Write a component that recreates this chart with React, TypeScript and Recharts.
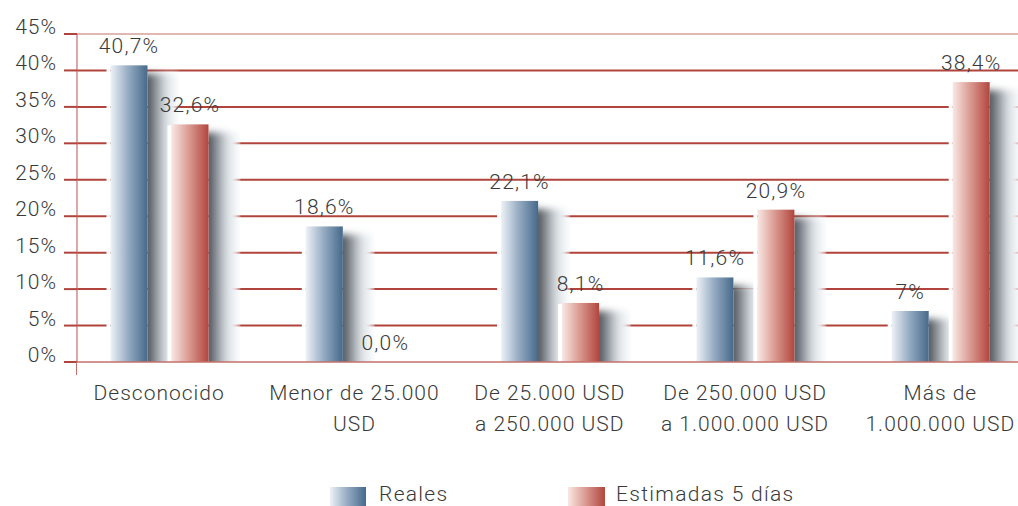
import { BarChart, Bar, XAxis, YAxis, CartesianGrid, LabelList, ReferenceLine } from 'recharts';

const categories = [
  'Desconocido',
  'Menor de 25.000\nUSD',
  'De 25.000 USD\na 250.000 USD',
  'De 250.000 USD\na 1.000.000 USD',
  'Más de\n1.000.000 USD',
];
const reales = [40.7, 18.6, 22.1, 11.6, 7];
const estimadas = [32.6, 0.0, 8.1, 20.9, 38.4];
const seriesNames = ['Reales', 'Estimadas 5 días'];
const yTicks = [0, 5, 10, 15, 20, 25, 30, 35, 40, 45];
const gridValues = [5, 10, 15, 20, 25, 30, 35, 40];

const data = categories.map((name, i) => ({ name, reales: reales[i], estimadas: estimadas[i] }));

const FONT = 'Roboto, sans-serif';
const WEIGHT = 300;
const TEXT = '#3a3a3a';
const GRID = '#b0443d';
const AXIS = '#c4706a';

const fmt = (v: number) =>
  (Number.isInteger(v) && v !== 0 ? String(v) : v.toFixed(1)).replace('.', ',') + '%';

const makeBar = (grad: string) => (props: any) => {
  const { x, y, width, height, index } = props;
  if (!height || height <= 0) return null;
  const clipId = `clip-${grad}-${index}`;
  return (
    <g>
      <clipPath id={clipId}>
        <rect x={x + width} y={y - 10} width={32} height={height + 10} />
      </clipPath>
      <rect x={x - 4} y={y + 1} width={4} height={height - 1} fill="#fff" />
      <g clipPath={`url(#${clipId})`}>
        <rect x={x + width} y={y + 12} width={22} height={height - 12} fill="#fff" />
        <rect
          x={x + width - 6}
          y={y + 8}
          width={36}
          height={height + 10}
          fill="url(#shadowGrad)"
          filter="url(#blur)"
        />
      </g>
      <rect x={x} y={y} width={width} height={height} fill={`url(#${grad})`} />
    </g>
  );
};

const ValueLabel = (props: any) => {
  const { x, y, width, value } = props;
  return (
    <text
      x={x + width / 2}
      y={y - 12}
      textAnchor="middle"
      fill={TEXT}
      fontSize={21}
      fontWeight={WEIGHT}
      fontFamily={FONT}
      style={{ letterSpacing: 1.2 }}
    >
      {fmt(value)}
    </text>
  );
};

const XTick = (props: any) => {
  const { x, y, payload } = props;
  const lines = String(payload.value).split('\n');
  return (
    <text
      x={x}
      y={y + 30}
      textAnchor="middle"
      fill={TEXT}
      fontSize={21}
      fontWeight={WEIGHT}
      fontFamily={FONT}
      style={{ letterSpacing: 1 }}
    >
      {lines.map((l, i) => (
        <tspan key={i} x={x} dy={i === 0 ? 0 : 31}>
          {l}
        </tspan>
      ))}
    </text>
  );
};

const YTick = (props: any) => {
  const { x, y, payload } = props;
  return (
    <text
      x={x}
      y={y}
      textAnchor="end"
      fill={TEXT}
      fontSize={21}
      fontWeight={WEIGHT}
      fontFamily={FONT}
      style={{ letterSpacing: 1 }}
    >
      {payload.value}%
    </text>
  );
};

export default function App() {
  return (
    <div
      style={{
        position: 'absolute',
        top: 0,
        left: 0,
        width: 1018,
        height: 506,
        overflow: 'hidden',
        background: '#fff',
      }}
    >
      <BarChart
        width={1040}
        height={506}
        data={data}
        margin={{ top: 34, right: 2, left: 0, bottom: 84 }}
        barSize={37}
        barGap={24}
      >
        <defs>
          <linearGradient id="gBlue" x1="0" y1="0" x2="1" y2="0">
            <stop offset="0%" stopColor="#eef2f7" />
            <stop offset="45%" stopColor="#9aafc5" />
            <stop offset="100%" stopColor="#46698b" />
          </linearGradient>
          <linearGradient id="gRed" x1="0" y1="0" x2="1" y2="0">
            <stop offset="0%" stopColor="#f9e8e4" />
            <stop offset="50%" stopColor="#d8958c" />
            <stop offset="100%" stopColor="#b1463e" />
          </linearGradient>
          <linearGradient id="shadowGrad" x1="0" y1="0" x2="1" y2="0">
            <stop offset="0%" stopColor="#3c4147" />
            <stop offset="20%" stopColor="#555b61" />
            <stop offset="45%" stopColor="#9ba1a7" />
            <stop offset="70%" stopColor="#dfe4e8" />
            <stop offset="100%" stopColor="#f8fafc" />
          </linearGradient>
          <filter id="blur" x="-50%" y="-20%" width="200%" height="140%">
            <feGaussianBlur stdDeviation="3.5" />
          </filter>
        </defs>
        <CartesianGrid vertical={false} horizontalValues={gridValues} stroke={GRID} strokeWidth={2} />
        <ReferenceLine y={45} stroke={AXIS} strokeWidth={1.2} />
        <XAxis
          dataKey="name"
          interval={0}
          tickLine={false}
          axisLine={{ stroke: AXIS, strokeWidth: 1.5 }}
          tick={<XTick />}
          height={60}
          padding={{ left: -15.5, right: 0 }}
        />
        <YAxis
          domain={[0, 45]}
          ticks={yTicks}
          width={77}
          axisLine={{ stroke: AXIS, strokeWidth: 1.2 }}
          tickLine={{ stroke: GRID, strokeWidth: 2 }}
          tickSize={13}
          tickMargin={7}
          tick={<YTick />}
          interval={0}
        />
        <Bar dataKey="reales" name={seriesNames[0]} shape={makeBar('gBlue')} isAnimationActive={false}>
          <LabelList dataKey="reales" content={<ValueLabel />} />
        </Bar>
        <Bar dataKey="estimadas" name={seriesNames[1]} shape={makeBar('gRed')} isAnimationActive={false}>
          <LabelList dataKey="estimadas" content={<ValueLabel />} />
        </Bar>
      </BarChart>
      {/* axis line stub below the baseline */}
      <div style={{ position: 'absolute', left: 76, top: 362, width: 1.2, height: 13, background: AXIS }} />
      {/* legend */}
      <div style={{ position: 'absolute', left: 330, top: 487, width: 36, height: 22, background: 'linear-gradient(to right, #eef2f7, #9aafc5 45%, #46698b)' }} />
      <div style={{ position: 'absolute', left: 379, top: 484, fontFamily: FONT, fontWeight: WEIGHT, fontSize: 21, lineHeight: '20px', color: TEXT, letterSpacing: 1.3 }}>
        {seriesNames[0]}
      </div>
      <div style={{ position: 'absolute', left: 568, top: 487, width: 37, height: 22, background: 'linear-gradient(to right, #f9e8e4, #d8958c 50%, #b1463e)' }} />
      <div style={{ position: 'absolute', left: 616, top: 484, fontFamily: FONT, fontWeight: WEIGHT, fontSize: 21, lineHeight: '20px', color: TEXT, letterSpacing: 1.3 }}>
        {seriesNames[1]}
      </div>
    </div>
  );
}
